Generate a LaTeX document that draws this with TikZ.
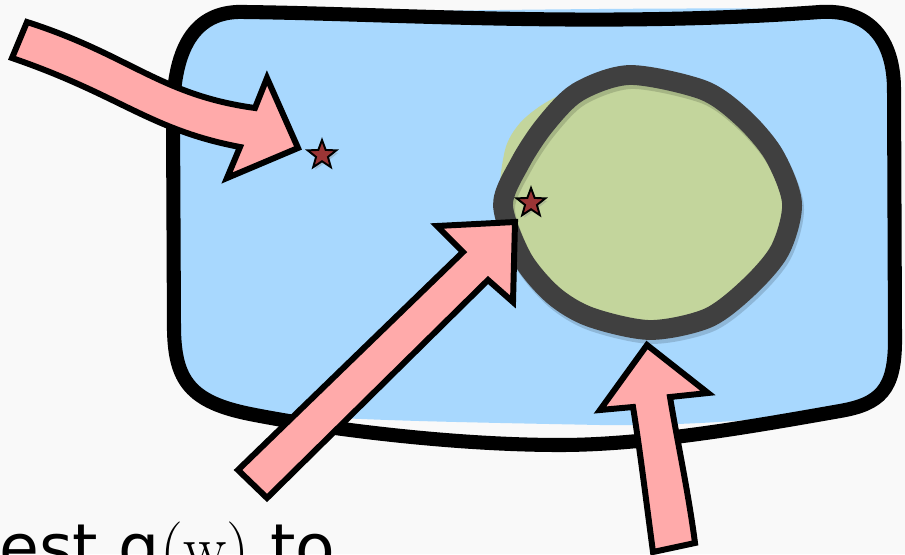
\documentclass[tikz,border=0pt]{standalone}
\usepackage{fontspec}
\newfontfamily\handfont{DejaVu Sans}
\usetikzlibrary{shapes.geometric,shadows}

\definecolor{bgcol}{HTML}{F9F9F9}
\definecolor{skyblue}{HTML}{A8D8FE}
\definecolor{leafgreen}{HTML}{C3D59C}
\definecolor{ringgray}{HTML}{404040}
\definecolor{arrowpink}{HTML}{FFAAAA}
\definecolor{starred}{HTML}{9A3535}

\begin{document}
\begin{tikzpicture}[
    x=0.02cm, y=-0.02cm,
    region/.style={draw=black, line width=8pt, line join=round},
    ring/.style={draw=ringgray, line width=11.3pt},
    blockarrow/.style={fill=arrowpink, draw=black, line width=3.4pt, line join=miter, miter limit=20},
    point/.style={star, star points=5, star point ratio=2.4, minimum size=0.6cm, inner sep=0pt, fill=starred, draw=black, line width=1.1pt, drop shadow={opacity=0.3, shadow xshift=1pt, shadow yshift=-1.5pt}},
    caption/.style={anchor=base west, inner sep=0pt, font=\handfont\fontsize{36.9}{40}\selectfont}
]

\fill[bgcol] (0,0) rectangle (905,554);
\useasboundingbox (0,0) rectangle (905,554);

% the set, fill a bit off its outline
\fill[skyblue] (245,13) .. controls (450,11) and (650,7) .. (820,9)
  .. controls (870,9) and (893,40) .. (893,90) -- (894,340)
  .. controls (894,390) and (880,404) .. (840,410)
  .. controls (780,418) and (700,426) .. (600,425)
  .. controls (450,422) and (320,420) .. (250,411)
  .. controls (190,400) and (175,380) .. (174,330) -- (173,120)
  .. controls (172,40) and (200,12) .. (245,13) -- cycle;
\draw[region] (245,12) .. controls (400,14) and (600,28) .. (820,12)
  .. controls (870,9) and (894,40) .. (894,90) -- (895,340)
  .. controls (895,390) and (880,404) .. (840,411)
  .. controls (760,425) and (650,445) .. (560,445)
  .. controls (450,445) and (320,428) .. (250,414)
  .. controls (190,402) and (175,380) .. (174,330) -- (173,120)
  .. controls (172,40) and (200,10) .. (245,12) -- cycle;

% inner region
\fill[leafgreen] plot[smooth cycle] coordinates {(500,205) (505,150) (520,123) (545,103) (578,88) (630,75) (703,90) (743,118) (774,155) (792,203) (780,250) (749,287) (708,318) (650,330) (590,317) (553,295) (522,258)};
\draw[ring, draw=black, opacity=0.15, shift={(2,4)}] plot[smooth cycle] coordinates {(503,205) (520,163) (545,125) (578,92) (630,75) (703,90) (743,118) (774,155) (792,203) (780,250) (749,287) (708,318) (650,330) (590,317) (553,295) (522,258)};
\draw[ring] plot[smooth cycle] coordinates {(503,205) (520,163) (545,125) (578,92) (630,75) (703,90) (743,118) (774,155) (792,203) (780,250) (749,287) (708,318) (650,330) (590,317) (553,295) (522,258)};

% arrows
\draw[blockarrow] (27,22) .. controls (130,55) and (160,95) .. (255,108)
  -- (267,78) -- (298,148) -- (227,178) -- (240,147)
  .. controls (150,130) and (120,95) .. (12,58) -- cycle;
\draw[blockarrow] (238,470) -- (463,252) -- (437,226) -- (515,222) -- (513,302) -- (488,280) -- (267,498) -- cycle;
\draw[blockarrow] (653,552) .. controls (646,500) and (640,450) .. (633,407)
  -- (600,410) -- (647,345) -- (708,393) -- (670,397)
  .. controls (677,440) and (688,490) .. (695,543) -- cycle;

\node[point] (p1) at (322,155) {};
\node[point] (p2) at (531,203) {};

\node[caption] (label) at (-1,570) {est g{\rmfamily(w)} to};

\end{tikzpicture}
\end{document}
